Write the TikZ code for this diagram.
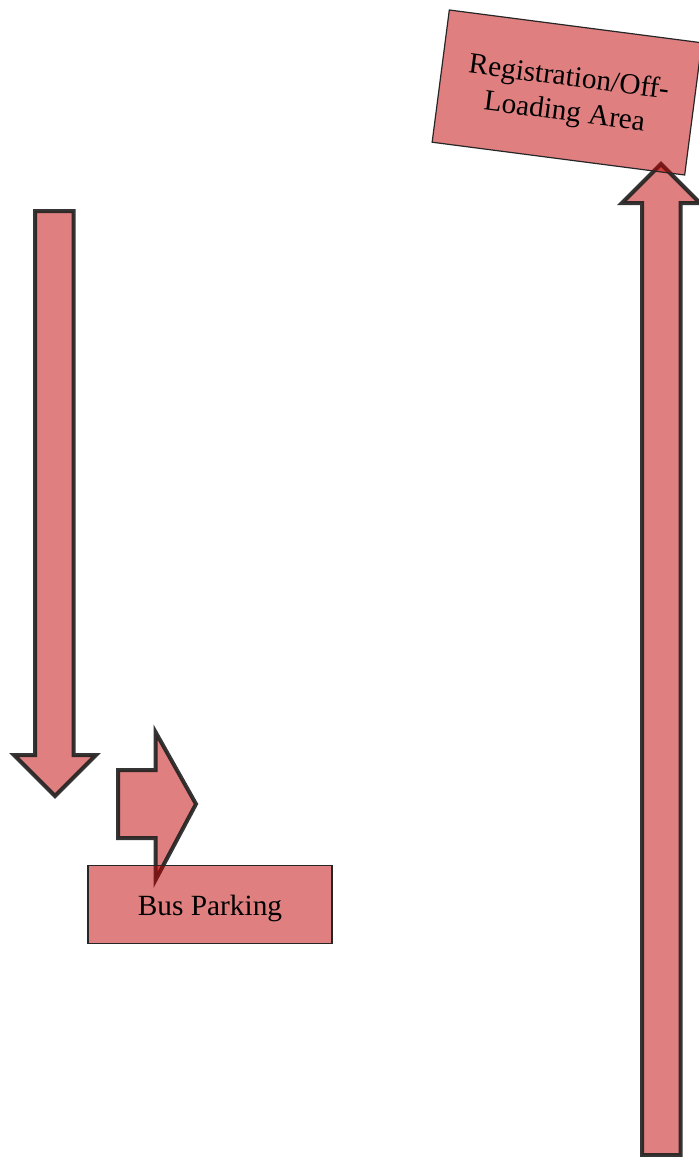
\documentclass[tikz,border=0pt]{standalone}
\usepackage{fontspec}
\setmainfont{Liberation Serif}
\usetikzlibrary{positioning}

\begin{document}
\begin{tikzpicture}[
  x=0.75pt, y=-0.75pt,
  area/.style={draw=black!85, line width=0.9pt, fill=red!75!black, fill opacity=0.5, text opacity=1, font=\fontsize{22}{26}\selectfont, align=center, inner sep=0pt},
  blockarr/.style={draw=black!88, draw opacity=0.9, line width=3pt, fill=red!75!black, fill opacity=0.5, line join=miter},
]
  \useasboundingbox (0,0) rectangle (699,1157);
  \clip (0,0) rectangle (699,1157);

  \draw[blockarr] (35,211) -- (73.5,211) -- (73.5,755) -- (96,755) -- (55,796) -- (14,755) -- (35,755) -- cycle;
  \draw[blockarr] (118,770) -- (155.5,770) -- (155.5,732) -- (196,804) -- (155.5,880) -- (155.5,838) -- (118,838) -- cycle;
  \draw[blockarr] (642,1155) -- (642,203) -- (622,203) -- (661,164) -- (700,203) -- (680.5,203) -- (680.5,1155) -- cycle;

  \node[area, minimum width=183pt, minimum height=58pt, text height=17pt, text depth=0pt] (bus) at (210,904.5) {Bus Parking};
  \node[area, minimum width=191pt, minimum height=100pt, text height=42pt, text depth=0pt, rotate=-7.4] (reg) at (567,92.5) {Registration/Off-\\Loading Area};
\end{tikzpicture}
\end{document}
